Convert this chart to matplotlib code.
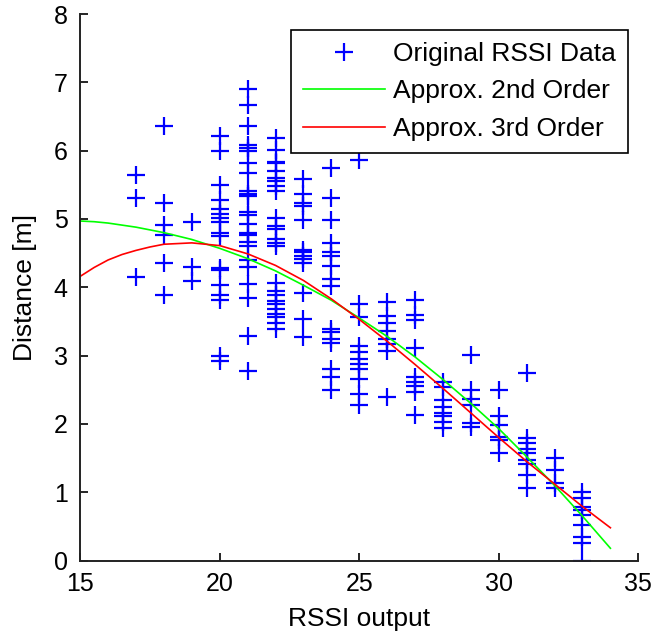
import numpy as np
import matplotlib
matplotlib.use("Agg")
import matplotlib.pyplot as plt

# Измеренные расстояния для каждого значения RSSI
dist_17 = [5.64, 5.30, 4.15]
dist_18 = [6.36, 5.23, 4.91, 4.76, 4.36, 3.88]
dist_19 = [4.95, 4.30, 4.09]
dist_20 = [6.21, 6.00, 5.49, 5.28, 5.14, 5.07, 5.02, 4.96, 4.80, 4.75,
           4.28, 4.25, 4.03, 3.88, 3.82, 3.00, 2.92]
dist_21 = [6.90, 6.67, 6.36, 6.09, 6.04, 5.99, 5.82, 5.67, 5.41, 5.37,
           5.34, 5.10, 5.06, 4.93, 4.79, 4.76, 4.66, 4.61, 4.40, 4.29,
           4.05, 3.84, 3.29, 2.78]
dist_22 = [6.19, 6.01, 5.84, 5.82, 5.70, 5.60, 5.55, 5.48, 5.41, 5.02,
           4.89, 4.85, 4.70, 4.65, 4.60, 4.07, 3.95, 3.88, 3.80, 3.76,
           3.68, 3.61, 3.56, 3.48, 3.39]
dist_23 = [5.59, 5.36, 5.24, 5.19, 4.99, 4.55, 4.51, 4.46, 4.41, 4.36,
           3.92, 3.53, 3.27]
dist_24 = [5.75, 5.31, 4.99, 4.65, 4.51, 4.46, 4.31, 4.12, 4.02, 3.39,
           3.35, 3.24, 3.19, 2.80, 2.68, 2.49]
dist_25 = [5.87, 3.75, 3.56, 3.14, 3.05, 2.95, 2.88, 2.80, 2.66, 2.44, 2.27]
dist_26 = [3.78, 3.58, 3.48, 3.36, 3.24, 3.17, 3.07, 2.39]
dist_27 = [3.81, 3.59, 3.52, 3.11, 2.69, 2.62, 2.55, 2.47, 2.13]
dist_28 = [2.62, 2.54, 2.35, 2.25, 2.16, 2.11, 2.03, 1.94]
dist_29 = [3.01, 2.50, 2.37, 2.28, 2.01, 1.96]
dist_30 = [2.50, 2.11, 1.98, 1.81, 1.76, 1.57]
dist_31 = [2.74, 1.79, 1.72, 1.64, 1.57, 1.47, 1.42, 1.25, 1.06]
dist_32 = [1.50, 1.33, 1.13, 1.06]
dist_33 = [1.01, 0.91, 0.79, 0.74, 0.67, 0.52, 0.35, 0.25, 0.0]

rssi_levels = [17, 18, 19, 20, 21, 22, 23, 24, 25, 26, 27, 28, 29, 30, 31, 32, 33]
columns = [dist_17, dist_18, dist_19, dist_20, dist_21, dist_22, dist_23,
           dist_24, dist_25, dist_26, dist_27, dist_28, dist_29, dist_30,
           dist_31, dist_32, dist_33]

# Аппроксимирующие кривые (2-й и 3-й порядок)
fit_x = [15, 15.5, 16, 16.5, 17, 17.5, 18, 19, 20, 21, 22, 23, 24, 25, 26,
         27, 28, 29, 30, 31, 32, 33, 34]
fit_2nd = [4.97, 4.96, 4.94, 4.91, 4.88, 4.84, 4.80, 4.70, 4.57, 4.42,
           4.24, 4.03, 3.81, 3.55, 3.28, 2.98, 2.65, 2.30, 1.93, 1.52,
           1.10, 0.65, 0.18]
fit_3rd = [4.16, 4.29, 4.40, 4.48, 4.54, 4.59, 4.63, 4.65, 4.61, 4.49,
           4.32, 4.10, 3.83, 3.53, 3.21, 2.87, 2.52, 2.16, 1.80, 1.45,
           1.12, 0.79, 0.48]

x_pts = np.concatenate([[r] * len(c) for r, c in zip(rssi_levels, columns)])
y_pts = np.concatenate(columns)

plt.rcParams["font.family"] = ["Liberation Sans", "DejaVu Sans"]
plt.rcParams["font.size"] = 18

fig = plt.figure(figsize=(6.52, 6.37), dpi=100)
ax = fig.add_axes([0.123, 0.120, 0.856, 0.858])

ax.plot(x_pts, y_pts, linestyle="none", marker="+", color="#0000ff",
        markersize=13, markeredgewidth=1.6, label="Original RSSI Data")
ax.plot(fit_x, fit_2nd, color="#00ff00", linewidth=1.2,
        label="Approx. 2nd Order")
ax.plot(fit_x, fit_3rd, color="#ff0000", linewidth=1.2,
        label="Approx. 3rd Order")

ax.set_xlim(15, 35)
ax.set_ylim(0, 8)
ax.set_xticks([15, 20, 25, 30, 35])
ax.set_yticks(range(0, 9))
ax.set_xlabel("RSSI output", fontsize=19, labelpad=8)
ax.set_ylabel("Distance [m]", fontsize=19, labelpad=12)

for side in ("top", "right"):
    ax.spines[side].set_visible(False)
for side in ("left", "bottom"):
    ax.spines[side].set_linewidth(1.4)
    ax.spines[side].set_color("#222222")
ax.tick_params(direction="in", length=6, width=1.2)
ax.tick_params(axis="x", pad=8)
ax.tick_params(axis="y", pad=9)

leg = ax.legend(loc="upper right", bbox_to_anchor=(0.981, 0.971),
                borderaxespad=0, numpoints=1, handlelength=3.1,
                handletextpad=0.3, labelspacing=0.52, borderpad=0.45,
                fancybox=False, framealpha=1, edgecolor="black", fontsize=19)
leg.get_frame().set_linewidth(1.2)

fig.savefig("out.png", dpi=100)
